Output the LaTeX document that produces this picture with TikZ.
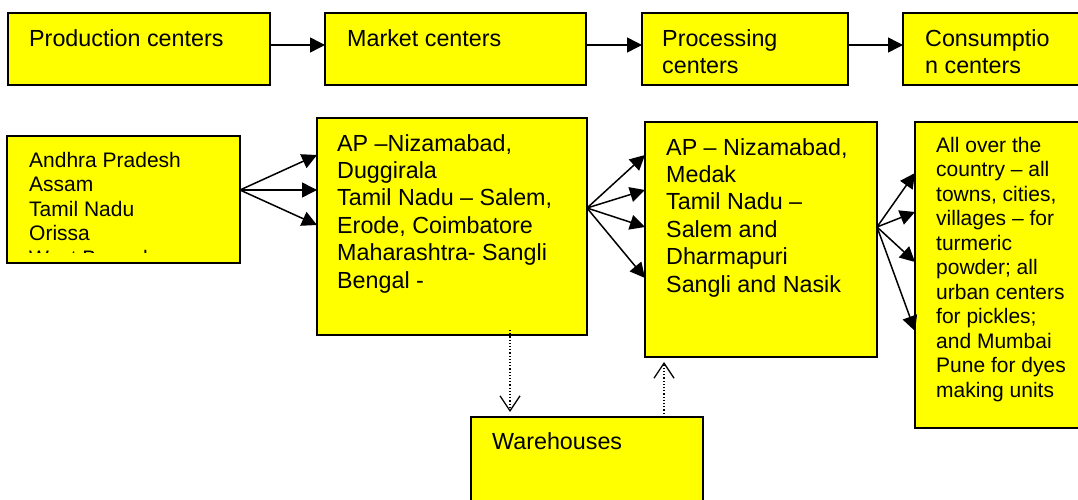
\documentclass[tikz,border=0pt]{standalone}
\usepackage{fontspec}
\setmainfont{Liberation Sans}
\usetikzlibrary{arrows.meta,calc}
\definecolor{boxyellow}{HTML}{FFFF00}
\begin{document}
\begin{tikzpicture}[x=1pt,y=-1pt,
  box/.style={draw=black, line width=1.8pt, fill=boxyellow, inner sep=0pt, outer sep=0pt, anchor=north west, rectangle},
  big/.style={font=\fontsize{23.3}{27.4}\selectfont, inner sep=0pt, anchor=north west, align=left},
  small/.style={font=\fontsize{21}{24.5}\selectfont, inner sep=0pt, anchor=north west, align=left},
  arr/.style={line width=1.5pt, -{Triangle[length=15pt,width=15pt]}},
  dotarr/.style={line width=1.2pt, dotted, -{Straight Barb[length=15pt,width=20pt,line width=1.3pt]}}]
\useasboundingbox (0,0) rectangle (1078,500);
% top row
\node[box, minimum width=262pt, minimum height=72pt] (prod) at (8,13) {};
\node[box, minimum width=261pt, minimum height=72pt] (market) at (325,13) {};
\node[box, minimum width=206pt, minimum height=72pt] (proc) at (642,13) {};
\node[box, minimum width=200pt, minimum height=72pt] (cons) at (903,13) {};
\node[big] (prodt) at (29,26.8) {\strut Production centers};
\node[big] (markett) at (347,26.8) {\strut Market centers};
\node[big] (proct) at (662,26.8) {\strut Processing\\centers};
\node[big] (const) at (925,26.8) {\strut Consumptio\\n centers};
\draw[arr] ([yshift=4pt]prod.east) -- ([yshift=4pt]market.west);
\draw[arr] ([yshift=4pt]market.east) -- ([yshift=4pt]proc.west);
\draw[arr] ([yshift=4pt]proc.east) -- ([yshift=4pt]cons.west);
% lower row
\node[box, minimum width=233pt, minimum height=127pt] (A) at (7,136) {};
\begin{scope}
\clip (8,137) rectangle (239,252);
\node[small] (At) at (29,149.9) {\strut Andhra Pradesh\\Assam\\Tamil Nadu\\Orissa\\West Bengal};
\end{scope}
\node[box, minimum width=270pt, minimum height=217pt] (B) at (317,118) {};
\node[big] (Bt) at (337,131.8) {\strut AP –Nizamabad,\\Duggirala\\Tamil Nadu – Salem,\\Erode, Coimbatore\\Maharashtra- Sangli\\Bengal -};
\node[box, minimum width=232pt, minimum height=235pt] (C) at (645,122) {};
\node[big] (Ct) at (666,135.8) {\strut AP – Nizamabad,\\Medak\\Tamil Nadu –\\Salem and\\Dharmapuri\\Sangli and Nasik};
\node[box, minimum width=190pt, minimum height=306pt] (D) at (915,122) {};
\node[small] (Dt) at (936,134.9) {\strut All over the\\country – all\\towns, cities,\\villages – for\\turmeric\\powder; all\\urban centers\\for pickles;\\and Mumbai\\Pune for dyes\\making units};
\node[box, minimum width=232pt, minimum height=100pt] (W) at (471,417) {};
\node[big] (Wt) at (492,429.8) {\strut Warehouses};
% fans
\coordinate (Ao) at ($(A.north east)+(0,54)$);
\foreach \dy in {37,72,107} \draw[arr] (Ao) -- ($(B.north west)+(0,\dy)$);
\coordinate (Bo) at ($(B.north east)+(0,90)$);
\foreach \dy in {33,68,105,156} \draw[arr] (Bo) -- ($(C.north west)+(0,\dy)$);
\coordinate (Co) at ($(C.north east)+(0,105)$);
\foreach \dy in {51,90,140,209} \draw[arr] (Co) -- ($(D.north west)+(0,\dy)$);
% dotted
\draw[dotarr] ($(B.south west)+(193,-5)$) -- ($(W.north west)+(39,-5)$);
\draw[dotarr] ($(W.north west)+(193,0)$) -- ($(C.south west)+(19,5)$);
\end{tikzpicture}
\end{document}
